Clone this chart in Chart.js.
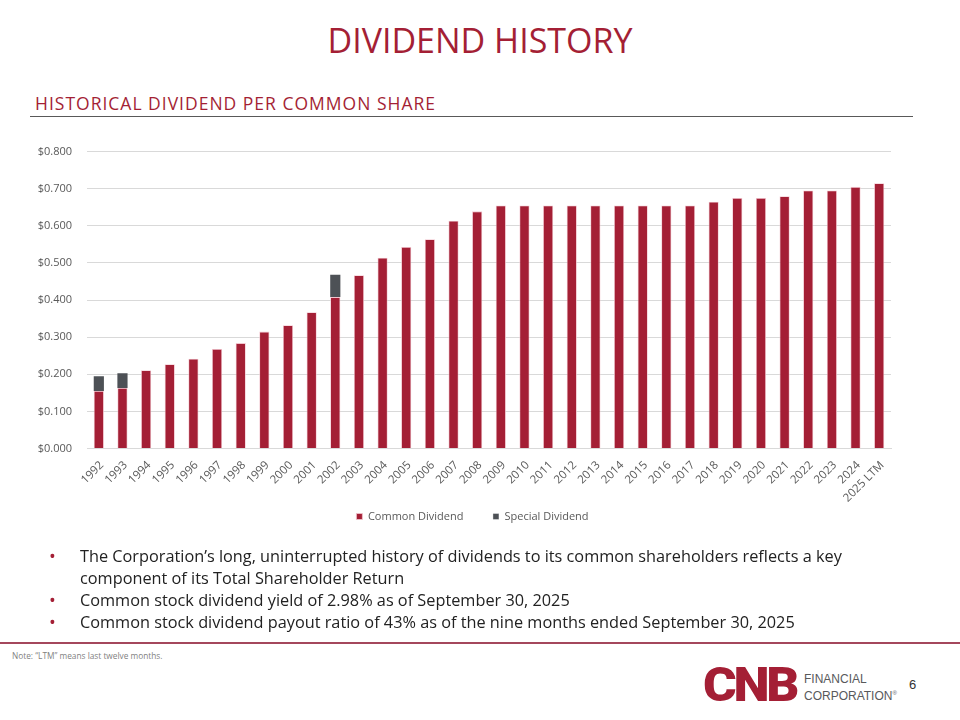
<!DOCTYPE html>
<html lang="en">
<head>
  <meta charset="UTF-8">
  <title>Dividend History</title>
  <script src="https://cdn.jsdelivr.net/npm/chart.js"></script>
  <style>
    body { margin: 0; width: 960px; height: 720px; position: relative; background: #fff; font-family: "Open Sans", sans-serif; overflow: hidden; }
    .abs { position: absolute; white-space: nowrap; }
    #title { left: 0; width: 960px; text-align: center; top: 16px; font-size: 34px; color: #a41f35; line-height: 48px; }
    #subtitle { left: 35px; top: 90px; font-size: 17.5px; letter-spacing: 1px; color: #a41f35; line-height: 26px; }
    #rule { left: 30px; top: 116px; width: 883px; height: 0; border-top: 1.5px solid #595959; }
    #chartBox { left: 0; top: 130px; width: 960px; height: 429px; }
    .bullet { left: 49px; color: #a41f35; font-size: 18px; line-height: 22px; }
    .line { left: 80px; color: #222; font-size: 16.3px; line-height: 22px; }
    #footRule { left: 0; top: 642px; width: 960px; height: 0; border-top: 2px solid #a4475c; }
    #note { left: 12px; top: 650px; font-size: 8.3px; color: #7f7f7f; }
    #logo { left: 703px; top: 660px; font-family: "Roboto", sans-serif; font-weight: 900; font-size: 48px; color: #a41f35; letter-spacing: -3px; line-height: 50px; transform: scaleX(1.07); transform-origin: left center; }
    .fin { left: 804px; font-family: "Liberation Sans", Arial, sans-serif; font-size: 12px; color: #58595b; line-height: 14px; }
    #page { left: 909px; top: 677px; font-family: "Liberation Sans", Arial, sans-serif; font-size: 13px; color: #333; }
  </style>
</head>
<body>
  <div id="title" class="abs">DIVIDEND HISTORY</div>
  <div id="subtitle" class="abs">HISTORICAL DIVIDEND PER COMMON SHARE</div>
  <div id="rule" class="abs"></div>

  <div id="chartBox" class="abs"><canvas id="divChart"></canvas></div>

  <div class="abs bullet" style="top:545px">•</div>
  <div class="abs line" style="top:545px">The Corporation’s long, uninterrupted history of dividends to its common shareholders reflects a key</div>
  <div class="abs line" style="top:567px">component of its Total Shareholder Return</div>
  <div class="abs bullet" style="top:589px">•</div>
  <div class="abs line" style="top:589px">Common stock dividend yield of 2.98% as of September 30, 2025</div>
  <div class="abs bullet" style="top:611px">•</div>
  <div class="abs line" style="top:611px">Common stock dividend payout ratio of 43% as of the nine months ended September 30, 2025</div>

  <div id="footRule" class="abs"></div>
  <div id="note" class="abs">Note: “LTM” means last twelve months.</div>
  <div id="logo" class="abs">CNB</div>
  <div class="abs fin" style="top:672px">FINANCIAL</div>
  <div class="abs fin" style="top:686px">CORPORATION<sup style="font-size:6px">®</sup></div>
  <div id="page" class="abs">6</div>

  <script>
    const years = ['1992', '1993', '1994', '1995', '1996', '1997', '1998', '1999', '2000', '2001',
      '2002', '2003', '2004', '2005', '2006', '2007', '2008', '2009', '2010', '2011', '2012',
      '2013', '2014', '2015', '2016', '2017', '2018', '2019', '2020', '2021', '2022', '2023',
      '2024', '2025 LTM'];

    const commonDividend = [0.155, 0.163, 0.211, 0.227, 0.242, 0.268, 0.284, 0.315, 0.332, 0.367,
      0.408, 0.467, 0.514, 0.543, 0.564, 0.614, 0.639, 0.655, 0.655, 0.655, 0.655,
      0.655, 0.655, 0.655, 0.655, 0.655, 0.665, 0.675, 0.675, 0.680, 0.695, 0.695,
      0.705, 0.715];

    const specialDividend = [0.040, 0.040, null, null, null, null, null, null, null, null,
      0.060, null, null, null, null, null, null, null, null, null, null,
      null, null, null, null, null, null, null, null, null, null, null,
      null, null];

    const yTicks = [0, 0.1, 0.2, 0.3, 0.4, 0.5, 0.6, 0.7, 0.8];

    const RED = '#a41f35';
    const GREY = '#4d5156';

    Chart.defaults.font.family = '"Open Sans", sans-serif';
    Chart.defaults.color = '#595959';

    // legend sits closer to the axis labels than chart.js would put it
    const nudgeLegend = {
      id: 'nudgeLegend',
      afterLayout(chart) {
        const lg = chart.legend;
        lg.top -= 27; lg.bottom -= 27;
        lg.left += 17; lg.right += 17;
      }
    };

    const ctx = document.getElementById('divChart').getContext('2d');
    new Chart(ctx, {
      type: 'bar',
      data: {
        labels: years,
        datasets: [
          {
            label: 'Common Dividend',
            data: commonDividend,
            backgroundColor: RED,
            borderColor: '#f3c6cf',
            borderWidth: 0.8,
            barPercentage: 0.43,
            categoryPercentage: 1
          },
          {
            label: 'Special Dividend',
            data: specialDividend,
            backgroundColor: GREY,
            borderColor: '#ffffff',
            borderWidth: { top: 0, left: 0, right: 0, bottom: 1.5 },
            barPercentage: 0.43,
            categoryPercentage: 1
          }
        ]
      },
      options: {
        responsive: true,
        maintainAspectRatio: false,
        animation: false,
        layout: { padding: { left: 20, right: 69, top: 17, bottom: 0 } },
        scales: {
          x: {
            stacked: true,
            grid: { display: false },
            border: { color: '#d9d9d9' },
            ticks: { maxRotation: 45, minRotation: 45, padding: 2, labelOffset: 3, autoSkip: false, font: { size: 11.5 } },
            afterFit: (scale) => { scale.height = 60; }
          },
          y: {
            stacked: true,
            min: 0,
            max: 0.8,
            afterBuildTicks: (scale) => { scale.ticks = yTicks.map(v => ({ value: v })); },
            grid: { color: '#d9d9d9', drawTicks: false },
            border: { display: false },
            ticks: { padding: 15, font: { size: 11 }, callback: (v) => '$' + Number(v).toFixed(3) },
            afterFit: (scale) => { scale.width = 67; }
          }
        },
        plugins: {
          legend: {
            position: 'bottom',
            labels: { boxWidth: 6, boxHeight: 6, padding: 29.5, font: { size: 11 }, color: '#595959' }
          },
          tooltip: { enabled: false }
        }
      },
      plugins: [nudgeLegend]
    });
  </script>
</body>
</html>
